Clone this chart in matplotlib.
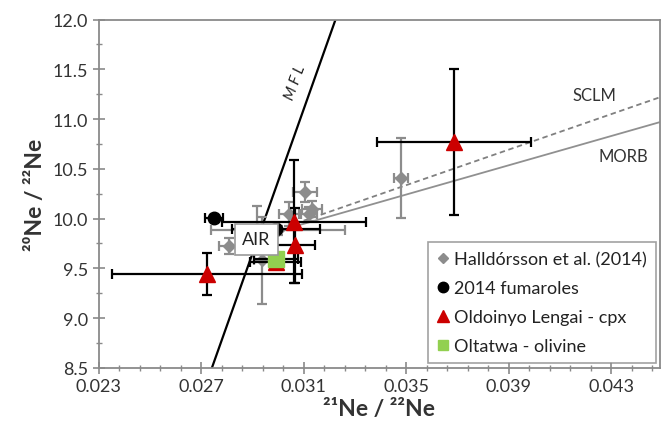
import matplotlib
matplotlib.use("Agg")
import matplotlib.pyplot as plt
from matplotlib.lines import Line2D

plt.rcParams['font.family'] = ['Lato', 'DejaVu Sans']

# ---------------- data ----------------
# Halldorsson et al. (2014) - gray diamonds
hal_x = [0.03480, 0.03105, 0.03133, 0.03120, 0.03043, 0.02916, 0.02808, 0.02938, 0.03000]
hal_y = [10.41, 10.265, 10.10, 10.05, 10.05, 9.90, 9.72, 9.58, 9.88]
hal_xerr = [0.00027, 0.00045, 0.00040, 0.00030, 0.00040, 0.00030, 0.00040, 0.00030, 0.00260]
hal_yerr = [0.40, 0.10, 0.08, 0.07, 0.12, 0.23, 0.08, 0.44, 0.05]

# 2014 fumaroles - black circles
fum_x = [0.02749, 0.02992]
fum_y = [10.005, 9.895]
fum_xerr = [0.00035, 0.00170]
fum_yerr = [0.03, 0.03]

# Oldoinyo Lengai - cpx - red triangles
ol_x = [0.03686, 0.03063, 0.03066, 0.02723, 0.02990]
ol_y = [10.77, 9.97, 9.73, 9.44, 9.56]
ol_xerr = [0.00300, 0.00280, 0.00080, 0.00370, 0.00100]
ol_yerr = [0.73, 0.62, 0.38, 0.21, 0.05]

# Oltatwa - olivine - green squares
olt_x = [0.02992]
olt_y = [9.59]
olt_xerr = [0.00085]
olt_yerr = [0.04]

# reference lines
air = (0.0290, 9.80)
mfl_x = [0.02742, 0.03224]
mfl_y = [8.5, 12.0]
sclm_x = [0.0290, 0.0449]
sclm_y = [9.80, 11.22]
morb_x = [0.0290, 0.0449]
morb_y = [9.80, 10.97]

xticks = [0.023, 0.027, 0.031, 0.035, 0.039, 0.043]
yticks = [8.5, 9.0, 9.5, 10.0, 10.5, 11.0, 11.5, 12.0]

# ---------------- figure ----------------
fig = plt.figure(figsize=(6.62, 4.39), dpi=100)
ax = fig.add_axes([0.149, 0.160, 0.848, 0.793])

gray = '#8c8c8c'
red = '#cc0000'
green = '#92d050'
spine_c = '#8a8a8a'

ax.set_xlim(0.023, 0.0449)
ax.set_ylim(8.5, 12.0)

# lines
ax.plot(mfl_x, mfl_y, color='black', lw=1.6, zorder=2)
ax.plot(sclm_x, sclm_y, color='#808080', lw=1.3, ls=(0, (3, 2)), zorder=1)
ax.plot(morb_x, morb_y, color='#909090', lw=1.3, zorder=1)

# error bars
ax.errorbar(hal_x, hal_y, xerr=hal_xerr, yerr=hal_yerr, fmt='none',
            ecolor=gray, elinewidth=1.6, capsize=3.5, capthick=1.6, zorder=3)
ax.plot(hal_x, hal_y, 'D', color=gray, ms=6.5, zorder=4, ls='none')

ax.errorbar(fum_x, fum_y, xerr=fum_xerr, yerr=fum_yerr, fmt='none',
            ecolor='black', elinewidth=1.6, capsize=3.5, capthick=1.6, zorder=5)
ax.plot(fum_x, fum_y, 'o', color='black', ms=9, zorder=6, ls='none')

ax.errorbar(ol_x, ol_y, xerr=ol_xerr, yerr=ol_yerr, fmt='none',
            ecolor='black', elinewidth=1.6, capsize=3.5, capthick=1.6, zorder=5)
ax.plot(ol_x, ol_y, '^', color=red, ms=12, zorder=7, ls='none')

ax.errorbar(olt_x, olt_y, xerr=olt_xerr, yerr=olt_yerr, fmt='none',
            ecolor='black', elinewidth=1.6, capsize=3.5, capthick=1.6, zorder=5)
ax.plot(olt_x, olt_y, 's', color=green, ms=11, zorder=8, ls='none')

# AIR box
ax.text(air[0] + 0.00015, air[1] - 0.01, 'AIR', ha='center', va='center', fontsize=13,
        color='#222222', zorder=9,
        bbox=dict(boxstyle='square,pad=0.4', fc='white', ec='#999999', lw=1.2))

# labels on lines
ax.text(0.03069, 11.37, 'M F L', rotation=70, ha='center', va='center',
        fontsize=11, style='italic', color='#222222')
ax.text(0.04236, 11.24, 'SCLM', ha='center', va='center', fontsize=12, color='#333333')
ax.text(0.04347, 10.627, 'MORB', ha='center', va='center', fontsize=12, color='#333333')

# ticks
ax.set_xticks(xticks)
ax.set_xticklabels([f'{t:.3f}' for t in xticks])
ax.set_yticks(yticks)
ax.set_yticklabels([f'{t:.1f}' for t in yticks])
ax.set_xticks([0.023 + 0.0008 * i for i in range(28)], minor=True)
ax.set_yticks([8.5 + 0.25 * i for i in range(15)], minor=True)
ax.tick_params(axis='both', which='major', direction='inout', length=9, width=1.2,
               color=spine_c, labelsize=13, labelcolor='#333333', pad=3)
ax.tick_params(axis='both', which='minor', direction='inout', length=5, width=1.0,
               color=spine_c)
for s in ax.spines.values():
    s.set_color(spine_c)
    s.set_linewidth(1.3)

ax.set_xlabel('²¹Ne / ²²Ne', fontsize=16.5, fontweight='bold', color='#333333', labelpad=3)
ax.set_ylabel('²⁰Ne / ²²Ne', fontsize=16.5, fontweight='bold', color='#333333', labelpad=5)

# legend
handles = [
    Line2D([], [], marker='D', color=gray, ls='none', ms=5.5),
    Line2D([], [], marker='o', color='black', ls='none', ms=7.5),
    Line2D([], [], marker='^', color=red, ls='none', ms=8.5),
    Line2D([], [], marker='s', color=green, ls='none', ms=7.5),
]
labels = ['Halldórsson et al. (2014)', '2014 fumaroles', 'Oldoinyo Lengai - cpx', 'Oltatwa - olivine']
leg = ax.legend(handles, labels, loc='lower right', bbox_to_anchor=(1.0, 0.0),
                fontsize=13, frameon=True, fancybox=False, handlelength=0.6,
                handletextpad=0.3, labelspacing=0.72, borderpad=0.5,
                borderaxespad=0.25)
leg.get_frame().set_edgecolor('#8a8a8a')
leg.get_frame().set_linewidth(1.2)
for t in leg.get_texts():
    t.set_color('#222222')
leg.set_zorder(10)

fig.savefig('out.png', dpi=100)
